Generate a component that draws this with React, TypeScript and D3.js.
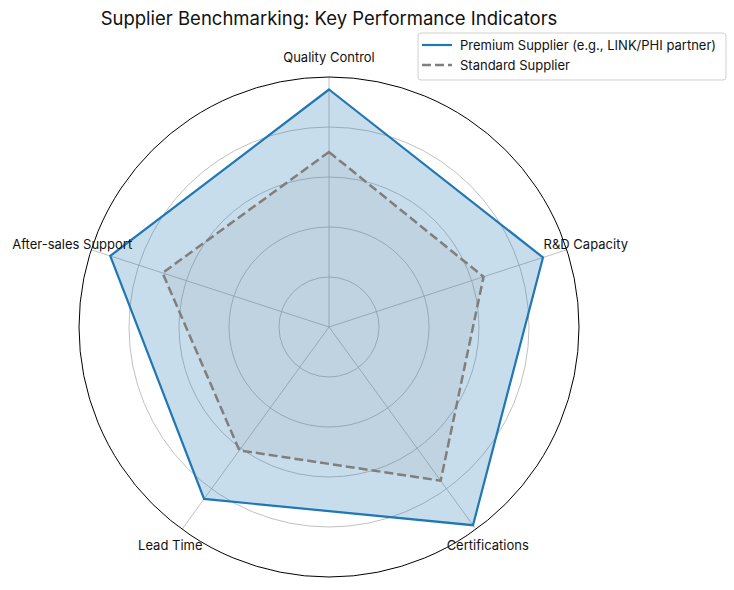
import React from "react";
import * as d3 from "d3";

const categories = ["Quality Control", "R&D Capacity", "Certifications", "Lead Time", "After-sales Support"];
const premiumValues = [95, 90, 98, 85, 92];
const standardValues = [70, 65, 76, 61, 70];
const gridTicks = [20, 40, 60, 80];
const seriesNames = ["Premium Supplier (e.g., LINK/PHI partner)", "Standard Supplier"];

const W = 734, H = 590;
const cx = 329, cy = 327, R = 250;
const FONT = "Inter, 'DejaVu Sans', sans-serif";

export default function App() {
  const r = d3.scaleLinear().domain([0, 100]).range([0, R]);
  const angle = d3.scaleLinear().domain([0, categories.length]).range([0, 2 * Math.PI]);
  const pt = (i: number, v: number): [number, number] => {
    const a = angle(i);
    return [cx + r(v) * Math.sin(a), cy - r(v) * Math.cos(a)];
  };
  const radial = d3
    .lineRadial<number>()
    .angle((_, i) => angle(i))
    .radius((d) => r(d))
    .curve(d3.curveLinearClosed);

  return (
    <svg width={W} height={H} style={{ position: "absolute", left: 0, top: 0 }} fontFamily={FONT}>
      <rect width={W} height={H} fill="white" />
      <text x={329} y={25} textAnchor="middle" fontSize={18.5} fill="#111">
        Supplier Benchmarking: Key Performance Indicators
      </text>
      {gridTicks.map((t) => (
        <circle key={t} cx={cx} cy={cy} r={r(t)} fill="none" stroke="#b0b0b0" strokeWidth={0.8} />
      ))}
      {categories.map((c, i) => {
        const [x, y] = pt(i, 100);
        return <line key={c} x1={cx} y1={cy} x2={x} y2={y} stroke="#b0b0b0" strokeWidth={0.8} />;
      })}
      <g transform={`translate(${cx},${cy})`}>
        <path d={radial(premiumValues) || ""} fill="#1f77b4" fillOpacity={0.25} stroke="#1f77b4" strokeWidth={2.2} strokeLinejoin="miter" />
        <path d={radial(standardValues) || ""} fill="#7f7f7f" fillOpacity={0.1} stroke="#7f7f7f" strokeWidth={2.5} strokeDasharray="9,4" />
      </g>
      <circle cx={cx} cy={cy} r={R} fill="none" stroke="#000" strokeWidth={1} />
      {categories.map((c, i) => {
        const [x, y] = pt(i, 108);
        return (
          <text key={c} x={x} y={y} textAnchor="middle" dominantBaseline="central" fontSize={13} fill="#111">
            {c}
          </text>
        );
      })}
      <g transform="translate(418,33)">
        <rect x={0} y={0} width={308} height={47} rx={3} fill="white" stroke="#d0d0d0" strokeWidth={1} />
        <line x1={4} x2={34} y1={12} y2={12} stroke="#1f77b4" strokeWidth={2.2} />
        <text x={42} y={12} dominantBaseline="central" fontSize={13} fill="#111">{seriesNames[0]}</text>
        <line x1={4} x2={34} y1={32} y2={32} stroke="#7f7f7f" strokeWidth={2.5} strokeDasharray="9,4" />
        <text x={42} y={32} dominantBaseline="central" fontSize={13} fill="#111">{seriesNames[1]}</text>
      </g>
    </svg>
  );
}
